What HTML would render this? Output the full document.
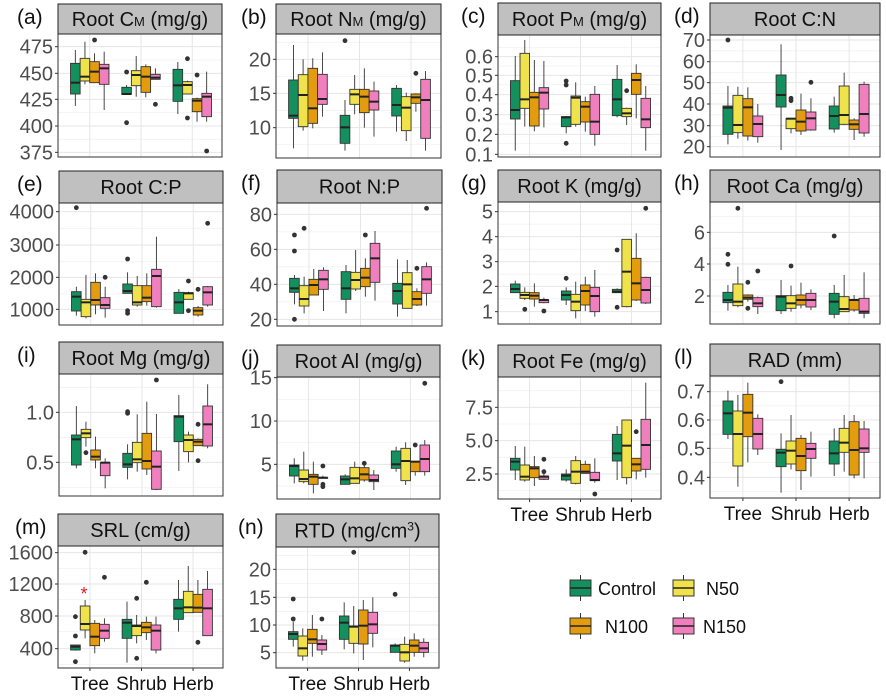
<!DOCTYPE html>
<html><head><meta charset="utf-8"><style>
body{margin:0;background:#fff}
svg{display:block;font-family:"Liberation Sans",Arial,sans-serif}
</style></head><body>
<svg id="s" width="886" height="697" viewBox="0 0 886 697" xmlns="http://www.w3.org/2000/svg"></svg>
<script>
const C=['#14905f','#f0e24a','#e39c0e','#f07fbe'];
const P=[
{l:'(a)',t:'Root C<tspan font-size="13">M</tspan> (mg/g)',L:58,R:222,st:4,pt:34,pb:157,off:0,lx:17,
tk:[['475',140],['450',220],['425',298],['400',378],['375',457]],
d:[[[150,190,248,282,318],[125,175,230,243,253],[160,185,215,248,248,120],[155,193,205,253,330]],
[[255,262,282,283,283,216,368],[168,212,225,257,290],[193,200,230,277,292],[205,223,233,238,238,313]],
[[186,208,256,304,342],[242,245,255,282,283,176,354],[293,296,302,335,365,225],[215,280,290,350,365,453]]]},
{l:'(b)',t:'Root N<tspan font-size="13">M</tspan> (mg/g)',L:276,R:441,st:4,pt:34,pb:158,off:0,lx:241,
tk:[['20',178],['15',280],['10',383]],
d:[[[135,240,347,355,445],[178,224,285,380,392],[175,205,325,370,385],[157,223,297,313,350]],
[[300,346,382,430,452,122],[225,268,283,313,343],[205,268,290,338,383],[245,273,305,330,410]],
[[255,265,315,348,395],[278,290,323,392,423],[280,282,292,310,335,220],[213,238,300,415,452]]]},
{l:'(c)',t:'Root P<tspan font-size="13">M</tspan> (mg/g)',L:498,R:661,st:3,pt:35,pb:157,off:0,lx:461,
tk:[['0.6',170],['0.5',226],['0.4',284],['0.3',344],['0.2',403],['0.1',463]],
d:[[[168,242,330,357,452],[120,160,298,325,380],[180,277,292,378,394],[183,263,278,327,382]],
[[348,350,352,380,400,243,255,430],[247,288,293,373,380],[290,305,320,366,395],[258,283,365,403,437]],
[[195,238,298,347,352],[323,325,340,350,375,272],[193,220,240,283,355],[258,295,358,383,452]]]},
{l:'(d)',t:'Root C:N',L:710,R:880,st:3,pt:35,pb:157,off:0,lx:674,
tk:[['70',120],['60',185],['50',248],['40',312],['30',377],['20',440]],
d:[[[258,318,323,403,433,120],[260,286,375,398,416],[262,296,322,408,422],[312,348,372,410,428]],
[[133,225,285,321,450],[355,356,356,386,400,295,302],[281,330,365,393,405],[295,336,355,390,392,247]],
[[290,318,348,387,398],[218,258,345,373,375],[355,360,373,388,420],[245,253,342,399,410]]]},
{l:'(e)',t:'Root C:P',L:59,R:223,st:171,pt:203,pb:325,off:165,lx:17,
tk:[['4000',140],['3000',240],['2000',337],['1000',433]],
d:[[[365,380,395,438,452,128],[330,403,412,455,460],[325,352,405,420,448],[365,398,420,430,458,337]],
[[322,357,378,385,385,282,437,445],[333,362,412,420,425],[325,362,398,410,422],[215,313,333,425,428]],
[[372,382,412,445,445],[380,383,385,403,403,348,437],[423,428,437,450,455,373],[363,365,382,420,425,175]]]},
{l:'(f)',t:'Root N:P',L:277,R:442,st:170,pt:203,pb:326,off:165,lx:241,
tk:[['80',148],['60',253],['40',358],['20',463]],
d:[[[330,340,370,382,418,210,258,463],[335,362,402,423,445,190],[312,343,360,390,390],[307,316,343,373,438]],
[[300,320,370,403,445],[255,322,345,372,378],[280,310,338,365,395,210],[198,235,280,352,407]],
[[283,355,378,417,455],[285,323,358,430,430],[370,380,402,420,423,310],[292,305,343,385,422,130]]]},
{l:'(g)',t:'Root K (mg/g)',L:498,R:661,st:170,pt:202,pb:324,off:165,lx:461,
tk:[['5',140],['4',215],['3',290],['2',364],['1',440]],
d:[[[347,357,372,383,383],[367,382,390,400,405,433],[355,383,392,402,425],[398,405,405,413,415,438]],
[[367,378,390,405,420,340],[350,388,410,437,460],[335,360,378,420,438],[315,367,393,440,455]],
[[370,373,380,383,383,255,427],[222,223,320,425,427],[205,280,355,405,408],[335,337,375,414,417,130]]]},
{l:'(h)',t:'Root Ca (mg/g)',L:710,R:880,st:170,pt:202,pb:324,off:165,lx:674,
tk:[['6',202],['4',297],['2',393]],
d:[[[360,382,405,413,437,268,298],[305,357,410,422,427,130],[388,390,398,403,410,352,430],[395,398,415,425,447,318]],
[[345,392,395,437,447],[362,392,415,430,440,303],[353,390,405,420,430],[373,385,405,426,435]],
[[360,385,410,448,460,213],[330,395,432,440,440],[390,403,405,435,440],[322,400,440,445,460]]]},
{l:'(i)',t:'Root Mg (mg/g)',L:59,R:223,st:342,pt:374,pb:496,off:335,lx:17,
tk:[['1.0',232],['0.5',382]],
d:[[[213,300,313,390,400],[260,283,295,308,335,353],[305,345,365,375,400],[370,383,383,422,460]],
[[328,355,388,397,433,230,235],[238,322,373,383,410],[200,295,378,402,420],[237,348,395,463,465,135]],
[[180,242,245,320,408],[290,300,315,350,382],[310,313,320,332,332,268,377],[148,213,268,333,340]]]},
{l:'(j)',t:'Root Al (mg/g)',L:277,R:440,st:345,pt:377,pb:499,off:335,lx:241,
tk:[['15',128],['10',258],['5',388]],
d:[[[370,390,393,423,445],[350,405,432,440,445],[380,418,425,448,475],[422,428,428,430,430,393,448,455]],
[[418,423,433,448,448],[380,397,430,445,445],[380,398,418,435,440,385],[405,420,435,440,465]],
[[335,348,388,400,410],[322,340,378,437,450],[380,380,380,410,422,330],[315,330,372,410,422,145]]]},
{l:'(k)',t:'Root Fe (mg/g)',L:498,R:661,st:345,pt:377,pb:499,off:330,lx:461,xl:1,
tk:[['7.5',232],['5.0',332],['2.5',432]],
d:[[[348,385,395,420,450],[350,405,440,450,455],[378,410,415,443,468],[418,438,440,448,450,388,425]],
[[418,432,437,450,455],[378,392,425,460,463],[392,403,425,430,430],[385,427,450,452,458,492]],
[[288,313,370,393,450],[270,270,347,443,463],[385,385,403,423,448,305],[158,268,345,418,443]]]},
{l:'(l)',t:'RAD (mm)',L:710,R:880,st:344,pt:376,pb:498,off:330,lx:674,xl:1,
tk:[['0.7',185],['0.6',270],['0.5',355],['0.4',442]],
d:[[[182,213,250,313,327],[195,243,312,408,470],[158,193,248,320,397],[253,265,312,357,375]],
[[310,358,368,410,488,155],[255,333,362,402,418],[315,325,378,422,480],[305,340,357,385,440]],
[[295,333,370,402,438],[255,295,338,367,425],[255,275,360,435,445],[273,297,355,367,445]]]},
{l:'(m)',t:'SRL (cm/g)',L:58,R:223,st:514,pt:546,pb:668,off:490,lx:15,xl:1,
tk:[['1600',188],['1200',282],['800',378],['400',476]],
d:[[[465,465,470,480,482,380,438,515],[330,348,402,420,445,187],[390,400,440,467,490],[385,403,422,445,455,262]],
[[335,388,398,445,518],[375,405,408,437,460,325,505],[380,397,412,428,450,277],[380,405,422,480,490]],
[[270,328,355,388,425],[228,304,352,368,368],[270,313,353,367,367,457],[243,298,355,437,438]]]},
{l:'(n)',t:'RTD (mg/cm<tspan font-size="12" dy="-7">3</tspan><tspan dy="7">)</tspan>',L:276,R:439,st:514,pt:547,pb:668,off:490,lx:238,xl:1,
tk:[['20',238],['15',322],['10',405],['5',488]],
d:[[[395,425,432,448,470,327,387],[415,438,475,498,512],[375,418,448,460,500],[435,450,462,480,495,387]],
[[337,378,398,448,478],[348,408,410,460,490,187],[330,360,407,462,510],[322,367,403,430,472]],
[[460,465,467,487,487,313],[440,463,487,513,518],[430,450,467,487,500],[445,457,475,487,502]]]}
];
let h='';
for(const p of P){
  const Y=z=>p.off+z/3, W=p.R-p.L;
  h+=`<rect x="${p.L}" y="${p.pt}" width="${W}" height="${p.pb-p.pt}" fill="#fff"/>`;
  const ty=p.tk.map(t=>Y(t[1]));
  const step=ty.length>1?ty[1]-ty[0]:0;
  for(let i=-1;i<ty.length;i++){
    const m=(i<0?ty[0]-step/2:ty[i]+step/2);
    if(m>p.pt&&m<p.pb) h+=`<line x1="${p.L}" x2="${p.R}" y1="${m}" y2="${m}" stroke="#f2f2f2" stroke-width="0.8"/>`;
  }
  for(const y of ty) h+=`<line x1="${p.L}" x2="${p.R}" y1="${y}" y2="${y}" stroke="#e6e6e6" stroke-width="1"/>`;
  const bw=W/3.2*0.1875;
  const cx=[0,1,2].map(i=>p.L+W*(0.6+i)/3.2+1);
  for(const x of cx) h+=`<line x1="${x}" x2="${x}" y1="${p.pt}" y2="${p.pb}" stroke="#e6e6e6"/>`;
  p.d.forEach((g,gi)=>g.forEach((b,k)=>{
    const x=cx[gi]+(k-1.5)*bw, x0=x-bw/2;
    const [hi,q3,md,q1,lo]=b.slice(0,5).map(Y);
    h+=`<line x1="${x}" x2="${x}" y1="${hi}" y2="${lo}" stroke="#333" stroke-width="0.9"/>`;
    h+=`<rect x="${x0}" y="${q3}" width="${bw}" height="${Math.max(q1-q3,0.5)}" fill="${C[k]}" stroke="#333" stroke-width="0.9"/>`;
    h+=`<line x1="${x0}" x2="${x0+bw}" y1="${md}" y2="${md}" stroke="#222" stroke-width="2"/>`;
    b.slice(5).forEach(o=>h+=`<circle cx="${x}" cy="${Y(o)}" r="2.4" fill="#333"/>`);
  }));
  h+=`<rect x="${p.L}" y="${p.pt}" width="${W}" height="${p.pb-p.pt}" fill="none" stroke="#333" stroke-width="1"/>`;
  p.tk.forEach((t,i)=>{const y=ty[i];
    h+=`<line x1="${p.L-3}" x2="${p.L}" y1="${y}" y2="${y}" stroke="#333"/>`;
    h+=`<text x="${p.L-5}" y="${y+7}" font-size="20" fill="#4d4d4d" text-anchor="end">${t[0]}</text>`;});
  if(p.xl){['Tree','Shrub','Herb'].forEach((s,i)=>{
    h+=`<line x1="${cx[i]}" x2="${cx[i]}" y1="${p.pb}" y2="${p.pb+3}" stroke="#333"/>`;
    h+=`<text x="${cx[i]}" y="${p.pb+22}" font-size="19" fill="#111" text-anchor="middle">${s}</text>`;});}
  h+=`<rect x="${p.L}" y="${p.st}" width="${W}" height="${p.pt-p.st}" fill="#c0c0c0" stroke="#222" stroke-width="1"/>`;
  h+=`<text x="${(p.L+p.R)/2}" y="${(p.st+p.pt)/2+7}" font-size="20" fill="#111" text-anchor="middle">${p.t}</text>`;
  h+=`<text x="${p.lx}" y="${p.st+20}" font-size="21" fill="#111">${p.l}</text>`;
}
h+=`<text x="84" y="600" font-size="18" fill="#e41a1c" text-anchor="middle">*</text>`;
function key(x,y,c){return `<line x1="${x+10.5}" x2="${x+10.5}" y1="${y-5}" y2="${y+21}" stroke="#333"/><rect x="${x}" y="${y}" width="21" height="16" fill="${c}" stroke="#333"/><line x1="${x}" x2="${x+21}" y1="${y+8}" y2="${y+8}" stroke="#222" stroke-width="1.5"/>`;}
h+=key(570,580,C[0])+`<text x="598" y="595" font-size="18" fill="#111">Control</text>`;
h+=key(673,580,C[1])+`<text x="706" y="595" font-size="18" fill="#111">N50</text>`;
h+=key(570,618,C[2])+`<text x="605" y="633" font-size="18" fill="#111">N100</text>`;
h+=key(673,618,C[3])+`<text x="703" y="633" font-size="18" fill="#111">N150</text>`;
document.getElementById('s').innerHTML=h;
</script>
</body></html>
